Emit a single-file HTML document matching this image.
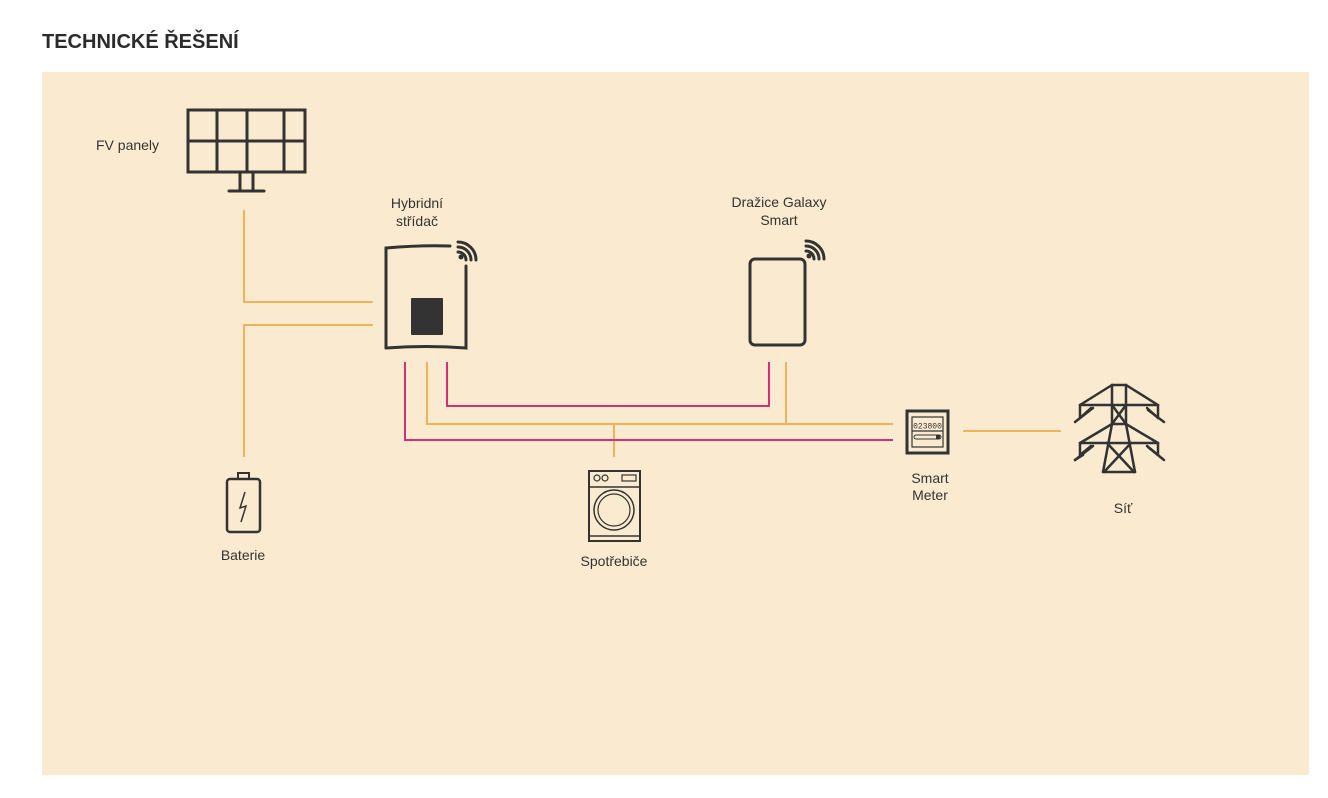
<!DOCTYPE html>
<html><head><meta charset="utf-8"><style>
html,body{margin:0;padding:0;background:#fff;width:1328px;height:798px;overflow:hidden}
svg{display:block}
text{font-family:"Liberation Sans",sans-serif;fill:#333}
</style></head><body>
<svg width="1328" height="798" viewBox="0 0 1328 798" xmlns="http://www.w3.org/2000/svg">
<text x="42" y="48" font-size="20" font-weight="bold" fill="#2b2b2b" style="fill:#2b2b2b">TECHNICKÉ ŘEŠENÍ</text>
<rect x="42" y="72" width="1267" height="703" fill="#FAEBD0"/>
<g fill="none" stroke="#EDB45A" stroke-width="2">
<polyline points="244,210 244,302 373,302"/>
<polyline points="373,325 244,325 244,457"/>
<polyline points="427,362 427,424 893,424"/>
<polyline points="786,362 786,424"/>
<line x1="614" y1="424" x2="614" y2="457"/>
<line x1="963" y1="431" x2="1061" y2="431"/>
</g>
<g fill="none" stroke="#D3307A" stroke-width="2">
<polyline points="405,362 405,440 893,440"/>
<polyline points="447,362 447,406 769,406 769,362"/>
</g>
<g fill="none" stroke="#333" stroke-width="3" stroke-linecap="round">
<!-- solar panel -->
<rect x="188" y="110" width="117" height="62"/>
<line x1="188" y1="141" x2="305" y2="141"/>
<line x1="217" y1="110" x2="217" y2="172"/>
<line x1="247" y1="110" x2="247" y2="172"/>
<line x1="284" y1="110" x2="284" y2="172"/>
<line x1="240" y1="172" x2="240" y2="190"/>
<line x1="253" y1="172" x2="253" y2="190"/>
<line x1="229" y1="191" x2="264" y2="191"/>
<!-- inverter -->
<path d="M386,348 L386,248 Q420,245 450,246"/>
<path d="M386,348 Q426,345 466,348 L466,266"/>
<!-- wifi inverter -->
<path d="M458,242 A18,18 0 0 1 476,260"/>
<path d="M458,247 A13,13 0 0 1 471,260"/>
<path d="M458,252 A8,8 0 0 1 466,260"/>
<!-- drazice -->
<rect x="750" y="259" width="55" height="86" rx="5"/>
<path d="M806,241 A18,18 0 0 1 824,259"/>
<path d="M806,246 A13,13 0 0 1 819,259"/>
<path d="M806,251 A8,8 0 0 1 814,259"/>
</g>
<circle cx="461" cy="257" r="2.5" fill="#333"/>
<circle cx="809" cy="256" r="2.5" fill="#333"/>
<rect x="411" y="298" width="32" height="37" rx="1" fill="#333"/>
<!-- battery -->
<g fill="none" stroke="#333" stroke-width="2.5">
<rect x="227" y="479" width="33" height="53" rx="3"/>
<rect x="238" y="473" width="11" height="6" stroke-width="2"/>
<polyline points="245,492 240,508 246,506 241,522" stroke-width="1.5"/>
</g>
<!-- washing machine -->
<g fill="none" stroke="#333">
<rect x="589" y="471" width="51" height="70" stroke-width="2"/>
<line x1="589" y1="487" x2="640" y2="487" stroke-width="1.5"/>
<line x1="589" y1="536" x2="640" y2="536" stroke-width="1.5"/>
<circle cx="597" cy="478" r="3" stroke-width="1.2"/>
<circle cx="605" cy="478" r="3" stroke-width="1.2"/>
<rect x="622" y="475" width="14" height="6" stroke-width="1.2"/>
<circle cx="614" cy="510" r="20" stroke-width="1.5"/>
<circle cx="614" cy="510" r="16" stroke-width="1.2"/>
</g>
<!-- smart meter -->
<g fill="none" stroke="#333">
<rect x="907" y="411" width="41" height="42" stroke-width="3"/>
<rect x="912" y="417" width="31" height="30" stroke-width="1.2"/>
<line x1="912" y1="431" x2="943" y2="431" stroke-width="1.2"/>
<rect x="914" y="435" width="27" height="4" rx="2" stroke-width="1"/>
</g>
<rect x="936" y="435" width="4" height="4" fill="#333"/>
<text x="927.5" y="428.5" font-size="8" text-anchor="middle" font-family="Liberation Mono" style="font-family:'Liberation Mono',monospace">023800</text>
<!-- pylon -->
<g fill="none" stroke="#333" stroke-width="2.5" stroke-linecap="round">
<polyline points="1112,385 1126,385 1126,424"/>
<line x1="1112" y1="385" x2="1112" y2="424"/>
<line x1="1112" y1="385" x2="1080" y2="405"/>
<line x1="1126" y1="385" x2="1158" y2="405"/>
<line x1="1080" y1="405" x2="1158" y2="405"/>
<line x1="1080" y1="405" x2="1080" y2="418"/>
<line x1="1158" y1="405" x2="1158" y2="418"/>
<line x1="1112" y1="405" x2="1126" y2="424"/>
<line x1="1126" y1="405" x2="1112" y2="424"/>
<line x1="1112" y1="424" x2="1126" y2="424"/>
<line x1="1080" y1="418" x2="1091" y2="408"/>
<line x1="1158" y1="418" x2="1147" y2="408"/>
<line x1="1075" y1="422" x2="1093" y2="408"/>
<line x1="1164" y1="422" x2="1148" y2="410"/>
<line x1="1112" y1="424" x2="1080" y2="443"/>
<line x1="1126" y1="424" x2="1158" y2="443"/>
<line x1="1080" y1="443" x2="1158" y2="443"/>
<line x1="1080" y1="443" x2="1080" y2="455"/>
<line x1="1158" y1="443" x2="1158" y2="455"/>
<line x1="1075" y1="460" x2="1093" y2="446"/>
<line x1="1164" y1="460" x2="1148" y2="447"/>
<line x1="1080" y1="455" x2="1091" y2="446"/>
<line x1="1158" y1="455" x2="1147" y2="446"/>
<line x1="1112" y1="424" x2="1103" y2="472"/>
<line x1="1126" y1="424" x2="1135" y2="472"/>
<line x1="1103" y1="472" x2="1135" y2="472"/>
<line x1="1107" y1="443" x2="1134" y2="472"/>
<line x1="1131" y1="443" x2="1104" y2="472"/>
<line x1="1075" y1="460" x2="1083" y2="455"/>
</g>
<g font-size="14" text-anchor="middle">
<text x="96" y="150" text-anchor="start">FV panely</text>
<text x="417" y="208">Hybridní</text>
<text x="417" y="226">střídač</text>
<text x="779" y="207">Dražice Galaxy</text>
<text x="779" y="225">Smart</text>
<text x="930" y="483">Smart</text>
<text x="930" y="500">Meter</text>
<text x="1123" y="513">Síť</text>
<text x="243" y="560">Baterie</text>
<text x="614" y="566">Spotřebiče</text>
</g>
</svg>
</body></html>
